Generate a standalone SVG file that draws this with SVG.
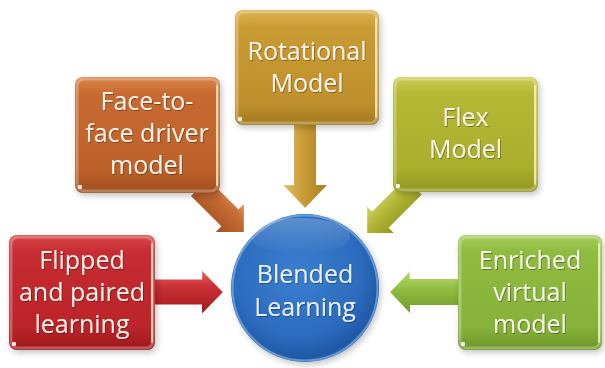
<svg xmlns="http://www.w3.org/2000/svg" width="605" height="368" viewBox="0 0 605 368">
  <defs>
    <style>
      .label { font-family: "Open Sans", "Liberation Sans", sans-serif; font-size: 25px; fill: #f7f3ea; text-anchor: middle; }
      .shadow { fill: #000; opacity: 0.22; filter: url(#soft); }
      .rim-top { fill: none; stroke: #ffffff; stroke-opacity: 0.28; stroke-width: 3; }
      .rim-right { stroke: #fff6cf; stroke-opacity: 0.75; stroke-width: 2; stroke-linecap: round; }
      .dot { fill: #ffffff; fill-opacity: 0.85; }
      .arrow-edge { fill: none; stroke: #ffffff; stroke-opacity: 0.35; stroke-width: 1.2; }
    </style>
    <filter id="soft" x="-20%" y="-20%" width="140%" height="140%">
      <feGaussianBlur stdDeviation="3"/>
    </filter>
    <filter id="textShade" x="-10%" y="-20%" width="120%" height="140%">
      <feDropShadow dx="0.8" dy="1" stdDeviation="0.6" flood-color="#000" flood-opacity="0.35"/>
    </filter>

    <!-- box fills: light top, main body, darker foot -->
    <linearGradient id="gRed" x1="0" y1="0" x2="0" y2="1">
      <stop offset="0" stop-color="#d9484b"/>
      <stop offset="0.15" stop-color="#c62c31"/>
      <stop offset="0.8" stop-color="#bb2429"/>
      <stop offset="1" stop-color="#9e181c"/>
    </linearGradient>
    <linearGradient id="gOrange" x1="0" y1="0" x2="0" y2="1">
      <stop offset="0" stop-color="#d9854a"/>
      <stop offset="0.15" stop-color="#c76a31"/>
      <stop offset="0.8" stop-color="#bd612b"/>
      <stop offset="1" stop-color="#a04e1e"/>
    </linearGradient>
    <linearGradient id="gGold" x1="0" y1="0" x2="0" y2="1">
      <stop offset="0" stop-color="#dcb354"/>
      <stop offset="0.15" stop-color="#c99b33"/>
      <stop offset="0.8" stop-color="#bf902c"/>
      <stop offset="1" stop-color="#a37a1f"/>
    </linearGradient>
    <linearGradient id="gFlex" x1="0" y1="0" x2="0" y2="1">
      <stop offset="0" stop-color="#cbcd55"/>
      <stop offset="0.15" stop-color="#b4b834"/>
      <stop offset="0.8" stop-color="#aaae2d"/>
      <stop offset="1" stop-color="#90951f"/>
    </linearGradient>
    <linearGradient id="gGreen" x1="0" y1="0" x2="0" y2="1">
      <stop offset="0" stop-color="#a6cd5c"/>
      <stop offset="0.15" stop-color="#8fbb40"/>
      <stop offset="0.8" stop-color="#86b23a"/>
      <stop offset="1" stop-color="#6c972a"/>
    </linearGradient>

    <!-- arrow fills, across the shaft (arrows drawn pointing +x, then rotated) -->
    <linearGradient id="aRed" x1="0" y1="0" x2="0" y2="1">
      <stop offset="0" stop-color="#e0666a"/>
      <stop offset="0.35" stop-color="#cc3236"/>
      <stop offset="1" stop-color="#a3191d"/>
    </linearGradient>
    <linearGradient id="aOrange" x1="0" y1="0" x2="0" y2="1">
      <stop offset="0" stop-color="#dc9460"/>
      <stop offset="0.35" stop-color="#c56b34"/>
      <stop offset="1" stop-color="#a4511f"/>
    </linearGradient>
    <linearGradient id="aGold" x1="0" y1="0" x2="0" y2="1">
      <stop offset="0" stop-color="#a97f22"/>
      <stop offset="0.55" stop-color="#c99c36"/>
      <stop offset="1" stop-color="#e2bf66"/>
    </linearGradient>
    <linearGradient id="aFlex" x1="0" y1="0" x2="0" y2="1">
      <stop offset="0" stop-color="#939820"/>
      <stop offset="0.55" stop-color="#b2b634"/>
      <stop offset="1" stop-color="#d4d66a"/>
    </linearGradient>
    <linearGradient id="aGreen" x1="0" y1="0" x2="0" y2="1">
      <stop offset="0" stop-color="#6e9a2a"/>
      <stop offset="0.55" stop-color="#8fbc40"/>
      <stop offset="1" stop-color="#b8da76"/>
    </linearGradient>

    <!-- centre disc -->
    <radialGradient id="gBlue" cx="0.45" cy="0.4" r="0.62">
      <stop offset="0" stop-color="#3b7fcf"/>
      <stop offset="0.7" stop-color="#2c6bbd"/>
      <stop offset="0.93" stop-color="#1f59a6"/>
      <stop offset="1" stop-color="#2a66b4"/>
    </radialGradient>
    <linearGradient id="gGloss" x1="0" y1="0" x2="0" y2="1">
      <stop offset="0" stop-color="#ffffff" stop-opacity="0.45"/>
      <stop offset="1" stop-color="#ffffff" stop-opacity="0"/>
    </linearGradient>
  </defs>

  <rect width="605" height="368" fill="#ffffff"/>

  <!-- connectors: block arrows into the centre disc -->
  <g id="connectors">
    <g transform="translate(223,292)">
      <polygon points="-73,-12.5 -21,-12.5 -21,-21.5 0,0 -21,21.5 -21,12.5 -73,12.5" fill="url(#aRed)"/>
      <polyline class="arrow-edge" points="-21,-12.5 -21,-21.5 0,0"/>
    </g>
    <g transform="translate(244,232) rotate(45)">
      <polygon points="-63,-12 -20,-12 -20,-20 0,0 -20,20 -20,12 -63,12" fill="url(#aOrange)"/>
      <polyline class="arrow-edge" points="-20,-12 -20,-20 0,0"/>
    </g>
    <g transform="translate(305,208) rotate(90)">
      <polygon points="-88,-11 -23,-11 -23,-22 0,0 -23,22 -23,11 -88,11" fill="url(#aGold)"/>
      <polyline class="arrow-edge" points="-23,11 -23,22 0,0"/>
    </g>
    <g transform="translate(367,233) rotate(135)">
      <polygon points="-66,-11.5 -19,-11.5 -19,-19 0,0 -19,19 -19,11.5 -66,11.5" fill="url(#aFlex)"/>
      <polyline class="arrow-edge" points="-19,11.5 -19,19 0,0"/>
    </g>
    <g transform="translate(390,292) rotate(180)">
      <polygon points="-73,-13 -20,-13 -20,-21 0,0 -20,21 -20,13 -73,13" fill="url(#aGreen)"/>
      <polyline class="arrow-edge" points="-20,13 -20,21 0,0"/>
    </g>
  </g>

  <!-- centre disc -->
  <g id="blended-learning">
    <circle class="shadow" cx="307" cy="291" r="74"/>
    <circle cx="305" cy="288" r="74" fill="url(#gBlue)"/>
    <circle cx="305" cy="288" r="72.5" fill="none" stroke="#9cc6ee" stroke-opacity="0.55" stroke-width="2"/>
    <ellipse cx="300" cy="236" rx="50" ry="18" fill="url(#gGloss)" opacity="0.5"/>
    <g filter="url(#textShade)">
      <text class="label" x="305" y="283" fill="#eaf1fa" style="fill:#eaf1fa">Blended</text>
      <text class="label" x="305" y="316" style="fill:#eaf1fa">Learning</text>
    </g>
  </g>

  <!-- outer boxes -->
  <g id="flipped-and-paired-learning">
    <rect class="shadow" x="11" y="238" width="146" height="115" rx="8"/>
    <rect x="9" y="235" width="146" height="115" rx="8" fill="url(#gRed)"/>
    <rect class="rim-top" x="11" y="237" width="142" height="111" rx="7"/>
    <line class="rim-right" x1="152" y1="244" x2="152" y2="342"/>
    <rect class="dot" x="12" y="342" width="4" height="4" rx="1"/>
    <g filter="url(#textShade)">
      <text class="label" x="82" y="269">Flipped</text>
      <text class="label" x="82" y="301">and paired</text>
      <text class="label" x="82" y="333">learning</text>
    </g>
  </g>

  <g id="face-to-face-driver-model">
    <rect class="shadow" x="77" y="80" width="145" height="116" rx="8"/>
    <rect x="75" y="77" width="145" height="116" rx="8" fill="url(#gOrange)"/>
    <rect class="rim-top" x="77" y="79" width="141" height="112" rx="7"/>
    <line class="rim-right" x1="217" y1="86" x2="217" y2="185"/>
    <rect class="dot" x="78" y="185" width="4" height="4" rx="1"/>
    <g filter="url(#textShade)">
      <text class="label" x="147" y="110">Face-to-</text>
      <text class="label" x="147" y="142">face driver</text>
      <text class="label" x="147" y="174">model</text>
    </g>
  </g>

  <g id="rotational-model">
    <rect class="shadow" x="237" y="13" width="144" height="115" rx="8"/>
    <rect x="235" y="10" width="144" height="115" rx="8" fill="url(#gGold)"/>
    <rect class="rim-top" x="237" y="12" width="140" height="111" rx="7"/>
    <line class="rim-right" x1="376" y1="19" x2="376" y2="117"/>
    <rect class="dot" x="238" y="117" width="4" height="4" rx="1"/>
    <g filter="url(#textShade)">
      <text class="label" x="307" y="60">Rotational</text>
      <text class="label" x="307" y="92">Model</text>
    </g>
  </g>

  <g id="flex-model">
    <rect class="shadow" x="395" y="80" width="145" height="115" rx="8"/>
    <rect x="393" y="77" width="145" height="115" rx="8" fill="url(#gFlex)"/>
    <rect class="rim-top" x="395" y="79" width="141" height="111" rx="7"/>
    <line class="rim-right" x1="535" y1="86" x2="535" y2="184"/>
    <rect class="dot" x="396" y="184" width="4" height="4" rx="1"/>
    <g filter="url(#textShade)">
      <text class="label" x="465.5" y="126">Flex</text>
      <text class="label" x="465.5" y="158">Model</text>
    </g>
  </g>

  <g id="enriched-virtual-model">
    <rect class="shadow" x="460" y="238" width="144" height="115" rx="8"/>
    <rect x="458" y="235" width="144" height="115" rx="8" fill="url(#gGreen)"/>
    <rect class="rim-top" x="460" y="237" width="140" height="111" rx="7"/>
    <line class="rim-right" x1="599" y1="244" x2="599" y2="342"/>
    <rect class="dot" x="461" y="342" width="4" height="4" rx="1"/>
    <g filter="url(#textShade)">
      <text class="label" x="530" y="269">Enriched</text>
      <text class="label" x="530" y="301">virtual</text>
      <text class="label" x="530" y="333">model</text>
    </g>
  </g>
</svg>
